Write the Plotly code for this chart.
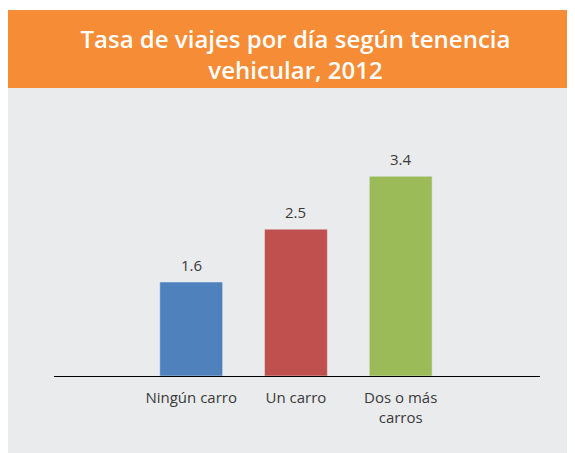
import plotly.graph_objects as go

categories = ["Ningún carro", "Un carro", "Dos o más<br>carros"]
values = [1.6, 2.5, 3.4]
bar_colors = ["#4F81BD", "#C0504D", "#9BBB59"]
title_text = "Tasa de viajes por día según tenencia<br>vehicular, 2012"

W, H = 575, 453
L, R, T, B = 46, 43, 112, 85
pw, ph = W - L - R, H - T - B

def px(x):
    return (x - L) / pw

def py(y):
    return (H - B - y) / ph

GRAY = "#EAEBED"
ORANGE = "#F68C35"
FONT = "Open Sans"
TXT = "#3A3A3A"

fig = go.Figure(go.Bar(
    x=categories, y=values, marker_color=bar_colors, width=0.6,
    cliponaxis=False, hoverinfo="skip",
))

annotations = [
    dict(x=c, y=v, xref="x", yref="y", text=f"{v:.1f}", showarrow=False,
         yanchor="bottom", yshift=5, font=dict(size=15, color=TXT, family=FONT))
    for c, v in zip(categories, values)
]

fig.update_layout(
    width=W, height=H,
    margin=dict(l=L, r=R, t=T, b=B),
    paper_bgcolor="white", plot_bgcolor=GRAY,
    showlegend=False,
    font=dict(family=FONT, color=TXT),
    annotations=annotations,
    title=dict(text=title_text, x=0.5, xref="container", xanchor="center",
               y=1 - 40 / H, yref="container", yanchor="middle",
               font=dict(family=FONT, size=24, color="white", weight=600)),
    shapes=[
        dict(type="rect", xref="paper", yref="paper", x0=px(0), x1=px(W + 2),
             y0=py(80), y1=py(2), fillcolor=ORANGE, line_width=0, layer="below"),
        dict(type="rect", xref="paper", yref="paper", x0=px(0), x1=px(W + 2),
             y0=py(H + 2), y1=py(80), fillcolor=GRAY, line_width=0, layer="below"),
    ],
)
fig.update_xaxes(range=[-1.31, 3.33], showline=True, linecolor="black", linewidth=1,
                 showgrid=False, zeroline=False, ticks="outside", ticklen=8,
                 tickcolor="rgba(0,0,0,0)",
                 tickfont=dict(size=15, color=TXT, family=FONT))
fig.update_yaxes(range=[0, ph / 58.75], visible=False, showgrid=False, zeroline=False)

fig.write_html("out.html")
